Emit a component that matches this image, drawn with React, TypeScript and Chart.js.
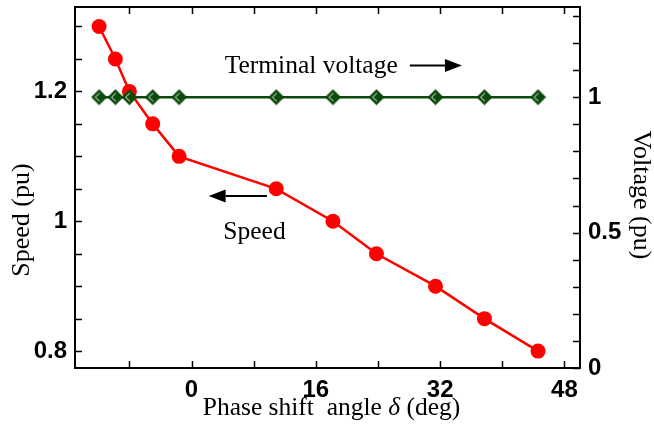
import React, { useEffect, useRef } from "react";
import { Chart, registerables } from "chart.js";
Chart.register(...registerables);

// ---- data ----
const phaseAngle = [-11.9, -9.8, -8.0, -5.0, -1.6, 10.9, 18.2, 23.8, 31.4, 37.7, 44.6];
const speedPu = [1.3, 1.25, 1.2, 1.15, 1.1, 1.05, 1.0, 0.95, 0.9, 0.85, 0.8];
const voltagePu = [1, 1, 1, 1, 1, 1, 1, 1, 1, 1, 1];

const xMajorTicks = [0, 16, 32, 48];
const xMinorTicks = [-8, 8, 24, 40];
const speedMajorTicks = [0.8, 1, 1.2];
const speedMinorTicks = [0.85, 0.9, 0.95, 1.05, 1.1, 1.15, 1.25, 1.3];
const voltageMajorTicks = [0, 0.5, 1];
const voltageMinorTicks = [0.1, 0.2, 0.3, 0.4, 0.6, 0.7, 0.8, 0.9, 1.1, 1.2, 1.3];

const xRange = [-15, 50];
const speedRange = [0.774, 1.33];
const voltageRange = [0, 1.333];

const xTitleParts = ["Phase shift  angle ", "\u03b4", " (deg)"];
const speedTitle = "Speed (pu)";
const voltageTitle = "Voltage (pu)";
const voltageNote = "Terminal voltage";
const speedNote = "Speed";

const RED = "#ff0000";
const GREEN = "#0b4a0b";

function makeDiamond(): HTMLCanvasElement {
  const s = 17;
  const c = document.createElement("canvas");
  c.width = s;
  c.height = s;
  const g = c.getContext("2d")!;
  const m = s / 2;
  g.beginPath();
  g.moveTo(m, 0.5);
  g.lineTo(s - 0.5, m);
  g.lineTo(m, s - 0.5);
  g.lineTo(0.5, m);
  g.closePath();
  g.fillStyle = GREEN;
  g.fill();
  const r = 4;
  g.beginPath();
  g.moveTo(m + 0.5, m - r);
  g.lineTo(m - r, m);
  g.lineTo(m + 0.5, m + r);
  g.strokeStyle = "#e8f2e8";
  g.lineWidth = 1;
  g.stroke();
  return c;
}

function arrow(ctx: CanvasRenderingContext2D, x1: number, x2: number, y: number) {
  const dir = x2 > x1 ? 1 : -1;
  const headL = 17;
  const headH = 6.5;
  ctx.beginPath();
  ctx.moveTo(x1, y);
  ctx.lineTo(x2 - dir * headL, y);
  ctx.lineWidth = 2;
  ctx.strokeStyle = "#000";
  ctx.stroke();
  ctx.beginPath();
  ctx.moveTo(x2, y);
  ctx.lineTo(x2 - dir * headL, y - headH);
  ctx.lineTo(x2 - dir * headL, y + headH);
  ctx.closePath();
  ctx.fillStyle = "#000";
  ctx.fill();
}

const serif = "'Liberation Serif', 'Times New Roman', serif";

const decor = {
  id: "decor",
  afterDraw(chart: any) {
    const { ctx, chartArea: a, scales } = chart;
    const x = scales.x;
    const ys = scales.ySpeed;
    const yv = scales.yVolt;
    ctx.save();
    ctx.strokeStyle = "#000";
    ctx.lineWidth = 2;
    ctx.strokeRect(a.left, a.top, a.right - a.left, a.bottom - a.top);
    const tl = 7;
    ctx.lineWidth = 1.5;
    ctx.beginPath();
    [...xMajorTicks, ...xMinorTicks].forEach((v) => {
      const px = Math.round(x.getPixelForValue(v)) + 0.5;
      ctx.moveTo(px, a.bottom);
      ctx.lineTo(px, a.bottom - tl);
      ctx.moveTo(px, a.top);
      ctx.lineTo(px, a.top + tl);
    });
    [...speedMajorTicks, ...speedMinorTicks].forEach((v) => {
      const py = Math.round(ys.getPixelForValue(v)) + 0.5;
      ctx.moveTo(a.left, py);
      ctx.lineTo(a.left + tl, py);
    });
    [...voltageMajorTicks, ...voltageMinorTicks].forEach((v) => {
      const py = Math.round(yv.getPixelForValue(v)) + 0.5;
      ctx.moveTo(a.right, py);
      ctx.lineTo(a.right - tl, py);
    });
    ctx.stroke();

    ctx.fillStyle = "#000";
    const fN = `25.5px ${serif}`;
    const fI = `italic 25.5px ${serif}`;
    ctx.font = fN;
    const w0 = ctx.measureText(xTitleParts[0]).width;
    const w2 = ctx.measureText(xTitleParts[2]).width;
    ctx.font = fI;
    const w1 = ctx.measureText(xTitleParts[1]).width;
    const total = w0 + w1 + w2;
    let tx = (a.left + a.right) / 2 + 4 - total / 2;
    const ty = 408;
    ctx.textBaseline = "middle";
    ctx.textAlign = "left";
    ctx.font = fN;
    ctx.fillText(xTitleParts[0], tx, ty);
    tx += w0;
    ctx.font = fI;
    ctx.fillText(xTitleParts[1], tx, ty);
    tx += w1;
    ctx.font = fN;
    ctx.fillText(xTitleParts[2], tx, ty);

    ctx.textAlign = "center";
    ctx.save();
    ctx.translate(22, 220);
    ctx.rotate(-Math.PI / 2);
    ctx.font = `26px ${serif}`;
    ctx.fillText(speedTitle, 0, 0);
    ctx.restore();
    ctx.save();
    ctx.translate(641, 195);
    ctx.rotate(Math.PI / 2);
    ctx.font = `26px ${serif}`;
    ctx.fillText(voltageTitle, 0, 0);
    ctx.restore();

    ctx.font = `25.5px ${serif}`;
    ctx.textAlign = "center";
    ctx.fillText(voltageNote, x.getPixelForValue(15.4), ys.getPixelForValue(1.238));
    arrow(ctx, x.getPixelForValue(28.1), x.getPixelForValue(34.8), ys.getPixelForValue(1.24));
    arrow(ctx, x.getPixelForValue(9.7), x.getPixelForValue(2.2), ys.getPixelForValue(1.039));
    ctx.fillStyle = "#000";
    ctx.fillText(speedNote, x.getPixelForValue(8.1), ys.getPixelForValue(0.983));
    ctx.restore();
  },
};

const tickFont = { family: "'Liberation Sans', Arial, sans-serif", weight: "bold" as const, size: 24 };
const fmt = (v: any) => String(Math.round(Number(v) * 100) / 100);

export default function App() {
  const ref = useRef<HTMLCanvasElement | null>(null);
  useEffect(() => {
    if (!ref.current) return;
    const diamond = makeDiamond();
    const chart = new Chart(ref.current, {
      type: "line",
      data: {
        datasets: [
          {
            label: "Speed",
            data: phaseAngle.map((x, i) => ({ x, y: speedPu[i] })),
            yAxisID: "ySpeed",
            borderColor: RED,
            backgroundColor: RED,
            borderWidth: 2.5,
            pointRadius: 7.5,
            pointBorderWidth: 0,
            pointBackgroundColor: RED,
            clip: false,
            order: 2,
          },
          {
            label: "Terminal voltage",
            data: phaseAngle.map((x, i) => ({ x, y: voltagePu[i] })),
            yAxisID: "yVolt",
            borderColor: GREEN,
            backgroundColor: GREEN,
            borderWidth: 2.5,
            pointStyle: diamond as any,
            pointRadius: 8,
            clip: false,
            order: 1,
          },
        ],
      },
      options: {
        responsive: false,
        animation: false,
        devicePixelRatio: 1,
        layout: { autoPadding: false, padding: { top: 7, left: 0, right: 0, bottom: 0 } },
        plugins: { legend: { display: false }, tooltip: { enabled: false } },
        scales: {
          x: {
            type: "linear",
            min: xRange[0],
            max: xRange[1],
            grid: { display: false, drawTicks: false },
            border: { display: false },
            ticks: { font: tickFont, color: "#000", padding: 8, maxRotation: 0, callback: fmt },
            afterBuildTicks: (s: any) => {
              s.ticks = xMajorTicks.map((v) => ({ value: v }));
            },
            afterFit: (s: any) => {
              s.height = 66;
              s.paddingLeft = 0;
              s.paddingRight = 0;
            },
          },
          ySpeed: {
            type: "linear",
            position: "left",
            min: speedRange[0],
            max: speedRange[1],
            grid: { display: false, drawTicks: false },
            border: { display: false },
            ticks: { font: tickFont, color: "#000", padding: 8, callback: fmt },
            afterBuildTicks: (s: any) => {
              s.ticks = speedMajorTicks.map((v) => ({ value: v }));
            },
            afterFit: (s: any) => {
              s.width = 75;
              s.paddingTop = 0;
              s.paddingBottom = 0;
            },
          },
          yVolt: {
            type: "linear",
            position: "right",
            min: voltageRange[0],
            max: voltageRange[1],
            grid: { display: false, drawTicks: false },
            border: { display: false },
            ticks: { font: tickFont, color: "#000", padding: 8, callback: fmt },
            afterBuildTicks: (s: any) => {
              s.ticks = voltageMajorTicks.map((v) => ({ value: v }));
            },
            afterFit: (s: any) => {
              s.width = 74;
              s.paddingTop = 0;
              s.paddingBottom = 0;
            },
          },
        },
      },
      plugins: [decor],
    });
    return () => chart.destroy();
  }, []);
  return (
    <div style={{ position: "absolute", left: 0, top: 0, width: 654, height: 434, background: "#fff" }}>
      <canvas ref={ref} width={654} height={434} />
    </div>
  );
}
